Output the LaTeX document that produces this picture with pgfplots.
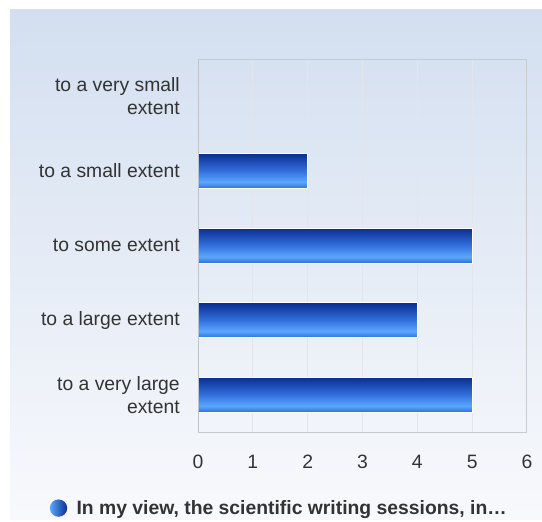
\documentclass[border=0pt]{standalone}
\usepackage{fontspec}
\setmainfont{Liberation Sans}
\usepackage{pgfplots}
\pgfplotsset{compat=1.18}
\definecolor{bgtop}{RGB}{211,223,240}
\definecolor{bgbot}{RGB}{248,249,252}
\definecolor{bdark}{RGB}{10,45,145}
\definecolor{bmid}{RGB}{50,112,220}
\definecolor{blight}{RGB}{92,167,252}
\definecolor{bbot}{RGB}{42,112,218}
\definecolor{txt}{RGB}{51,51,51}
\definecolor{gridc}{RGB}{226,230,236}
\definecolor{framec}{RGB}{200,202,206}
\definecolor{leftc}{RGB}{190,194,202}
\pgfdeclareverticalshading{barshade}{100bp}{color(0bp)=(bbot); color(25bp)=(bbot); color(34bp)=(blight); color(50bp)=(bmid); color(75bp)=(bdark); color(100bp)=(bdark)}
\begin{document}
\begin{tikzpicture}
\fill[white] (0,0) rectangle (406.5pt,389.25pt);
\shade[top color=bgtop, bottom color=bgbot] (7.5pt,0) rectangle (406.5pt,381.75pt);
\begin{axis}[
  at={(148.5pt,65.25pt)}, anchor=south west,
  width=246.75pt, height=279.75pt, scale only axis,
  xmin=0, xmax=6, ymin=-0.5, ymax=4.5,
  y dir=reverse,
  xtick={0,1,2,3,4,5,6},
  ytick={0,1,2,3,4},
  yticklabels={{to a very small\\extent},{to a small extent},{to some extent},{to a large extent},{to a very large\\extent}},
  major tick length=0pt,
  xmajorgrids,
  grid style={color=gridc, line width=0.75pt},
  axis line style={color=framec, line width=0.75pt},
  /pgf/number format/assume math mode=true,
  tick label style={text=txt, font=\fontsize{14.5}{17.25}\selectfont},
  yticklabel style={align=right, inner sep=0pt, xshift=-13.5pt},
  xticklabel style={inner sep=0pt, yshift=-17pt},
  legend style={at={(0.248,-0.204)}, anchor=center, draw=none, fill=none,
    font=\bfseries\fontsize{14.5}{17}\selectfont, text=txt},
  legend image code/.code={\shade[left color=blight, right color=bdark] (0pt,0pt) circle (6.5pt); \path (11.5pt,0pt);},
  cycle list={{white}},
  every axis plot/.append style={xbar, bar shift=0pt, mark=none, bar width=26.25pt},
  shadedbar/.style={draw=white, line width=0.75pt, shading=barshade},
]
\addplot[draw=none, fill=none] coordinates {(0,0)};
\addlegendentry{In my view, the scientific writing sessions, in…}
\addplot[shadedbar, forget plot] coordinates {(2,1)};
\addplot[shadedbar, forget plot] coordinates {(5,2)};
\addplot[shadedbar, forget plot] coordinates {(4,3)};
\addplot[shadedbar, forget plot] coordinates {(5,4)};
\draw[leftc, line width=1.5pt] (rel axis cs:0,0) -- (rel axis cs:0,1);
\end{axis}
\end{tikzpicture}
\end{document}
